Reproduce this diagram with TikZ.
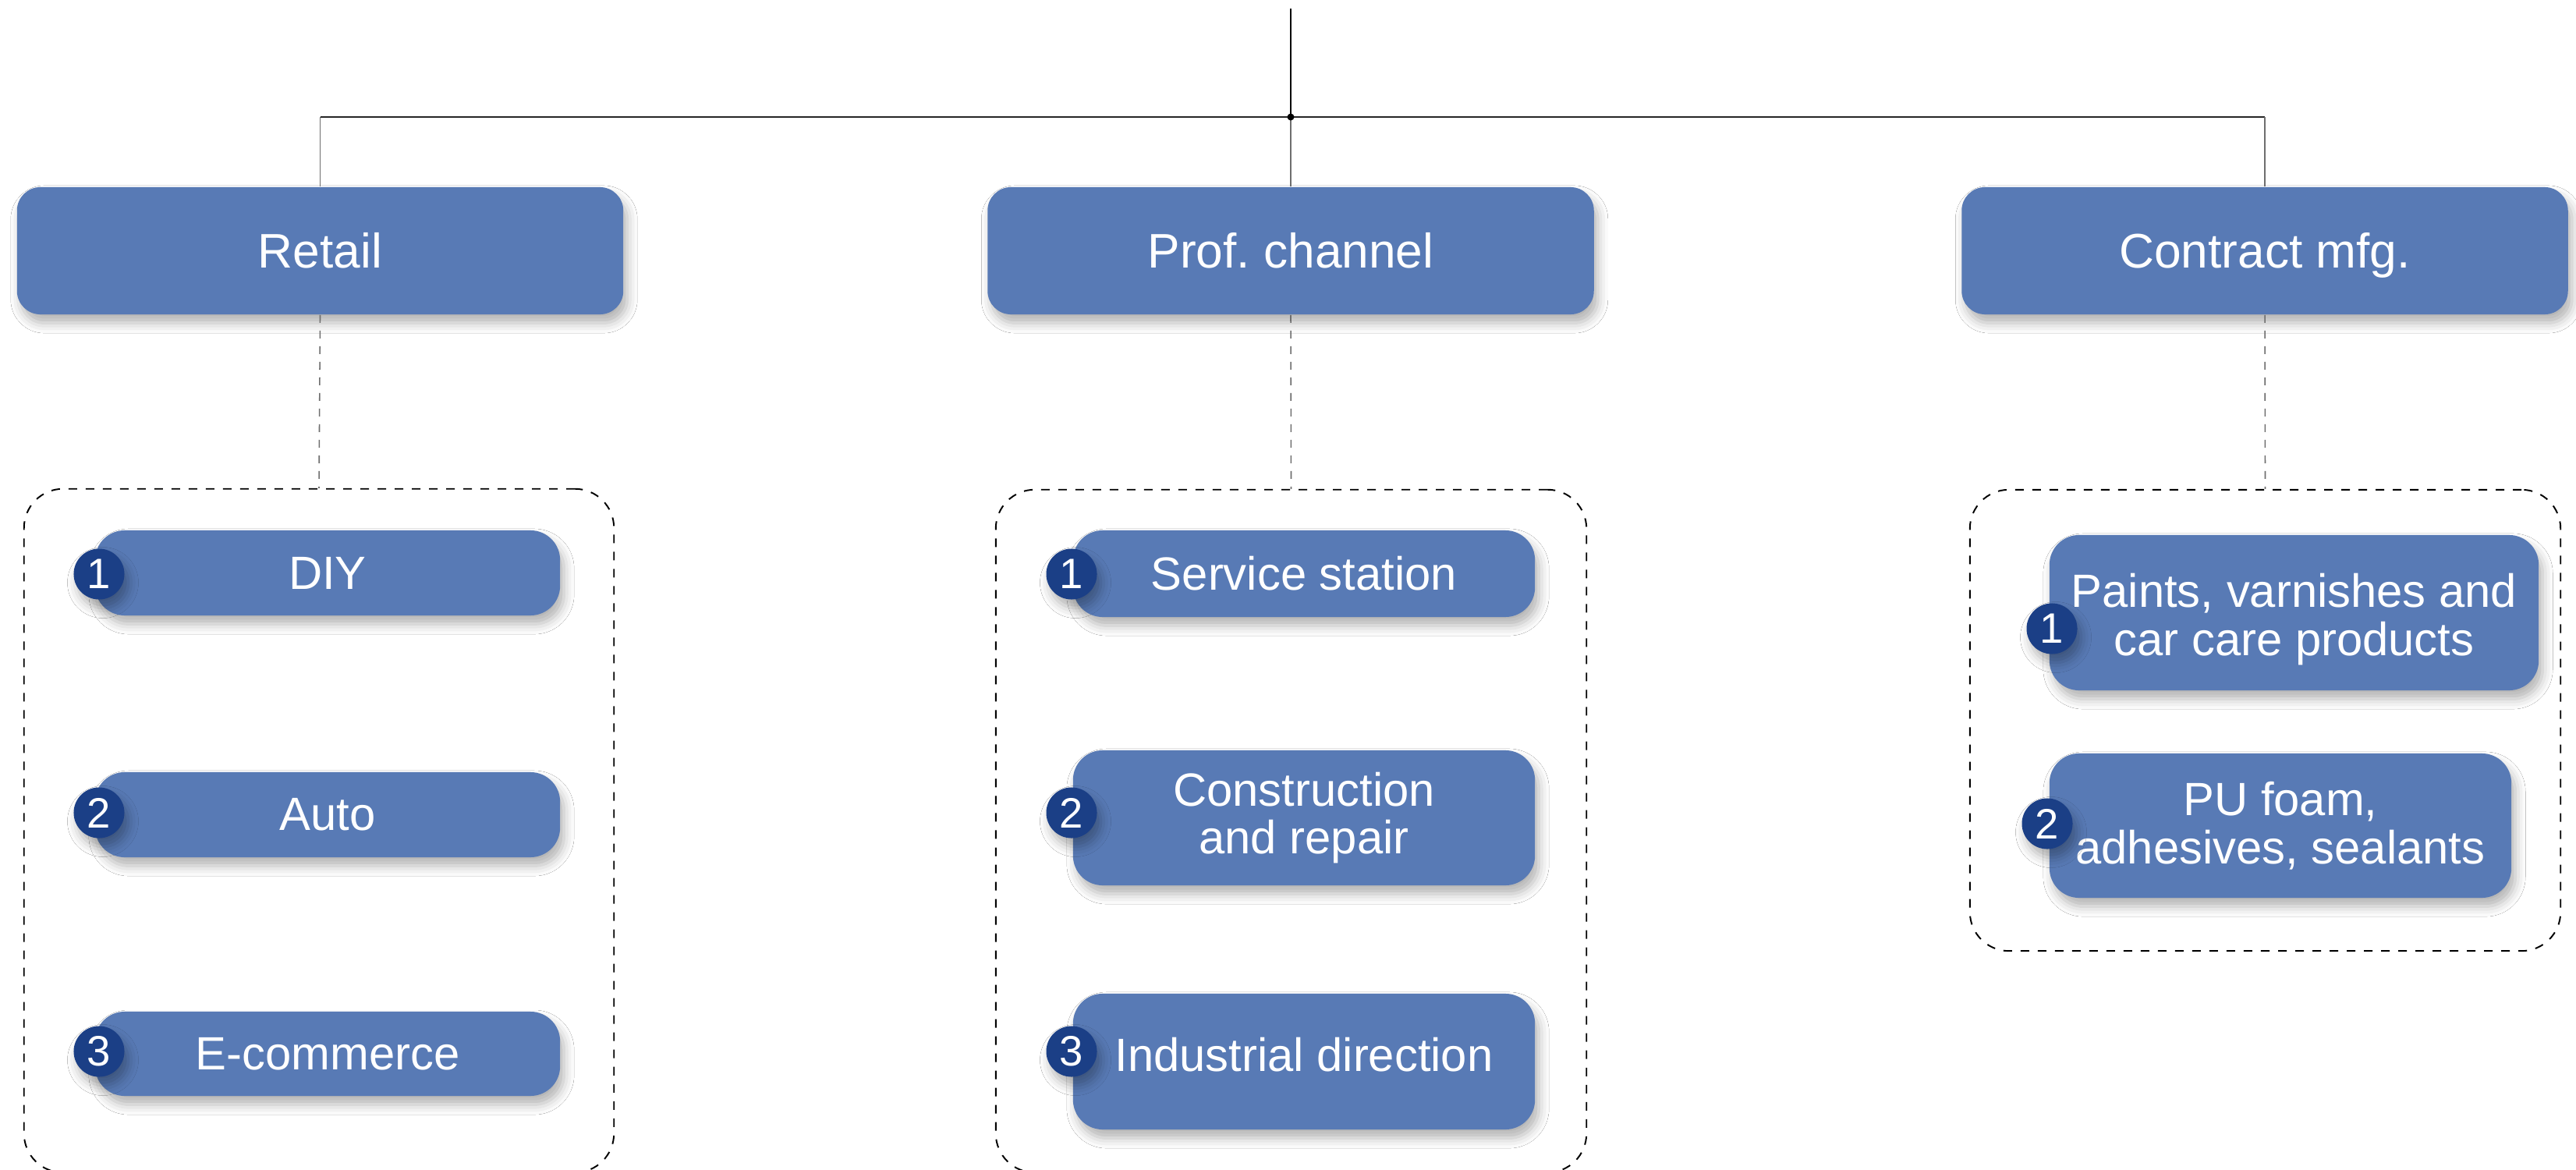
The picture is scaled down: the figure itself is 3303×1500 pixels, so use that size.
\documentclass[tikz,border=0pt]{standalone}
\usepackage{fontspec}
\setmainfont{Liberation Sans}
\usetikzlibrary{shadows.blur}
\definecolor{boxblue}{RGB}{88,122,181}
\definecolor{badgeblue}{RGB}{27,63,134}
\definecolor{linegray}{RGB}{110,110,110}
\frenchspacing
\tikzset{
  shad/.style={blur shadow={shadow xshift=0.5mm, shadow yshift=-1.1mm, shadow blur radius=1.3mm, shadow opacity=30}},
  hdr/.style={shad, draw=none, fill=boxblue, text=white, rounded corners=3mm,
    minimum width=7.77cm, minimum height=1.63cm, inner sep=0pt,
    text height=12.67pt, text depth=0pt,
    font=\fontsize{17.7}{18}\selectfont},
  item/.style={shad, draw=none, fill=boxblue, text=white, rounded corners=3.8mm,
    inner sep=0pt, align=center, font=\fontsize{17}{17.6}\selectfont},
  grp/.style={draw=black, line width=0.55pt, dash pattern=on 1.1mm off 1.1mm,
    rounded corners=5mm, inner sep=0pt},
  badge/.style={shad, circle, fill=badgeblue, text=white, minimum size=0.65cm,
    inner sep=0pt, font=\fontsize{15.5}{15.5}\selectfont},
  hline/.style={draw=black!85, line width=0.45pt},
  vline/.style={draw=linegray, line width=0.35pt},
  dline/.style={draw=linegray, line width=0.45pt, dash pattern=on 1mm off 1mm},
}
\begin{document}
\begin{tikzpicture}[x=0.01cm,y=-0.01cm]
\useasboundingbox (0,0) rectangle (3303,1500);
\fill[white] (0,0) rectangle (3303,1500);

% headers
\node[hdr] (retail) at (410.5,321.5) {Retail};
\node[hdr] (prof) at (1655,321.5) {Prof. channel};
\node[hdr] (contract) at (2904,321.5) {Contract mfg.};

% top connectors
\coordinate (top) at (1655,11);
\coordinate (j) at (1655,150);
\draw[vline, draw=black] (top) -- (j);
\draw[hline] (retail.north |- j) -- (contract.north |- j);
\draw[vline] (retail.north |- j) -- (retail.north);
\draw[vline] (j) -- (prof.north);
\draw[vline] (contract.north |- j) -- (contract.north);
\fill[black] (j) circle[radius=4.5];

% groups
\node[grp, minimum width=7.56cm, minimum height=8.76cm] (g1) at (409,1065) {};
\node[grp, minimum width=7.57cm, minimum height=8.75cm] (g2) at (1655.5,1065.5) {};
\node[grp, minimum width=7.57cm, minimum height=5.91cm] (g3) at (2904.5,923.5) {};

\draw[dline] (retail.south) -- (g1.north);
\draw[dline] (prof.south) -- (g2.north);
\draw[dline] (contract.south) -- (g3.north);

% retail items
\node[item, minimum width=5.96cm, minimum height=1.09cm] (diy) at (420,734.5) {DIY};
\node[item, minimum width=5.96cm, minimum height=1.09cm] (auto) at (420,1044.5) {Auto};
\node[item, minimum width=5.96cm, minimum height=1.08cm] (ecom) at (420,1351) {E-commerce};
\node[badge] (b11) at (127,736) {1};
\node[badge] (b12) at (127,1042) {2};
\node[badge] (b13) at (127,1348) {3};

% prof items
\node[item, minimum width=5.92cm, minimum height=1.11cm] (serv) at (1672,735.5) {Service station};
\node[item, minimum width=5.92cm, minimum height=1.73cm] (constr) at (1672,1048.5) {Construction\\and repair};
\node[item, minimum width=5.92cm, minimum height=1.74cm] (indus) at (1672,1361) {\raisebox{-0.125cm}[0pt][0pt]{Industrial direction}};
\node[badge] (b21) at (1374,736) {1};
\node[badge] (b22) at (1374,1042) {2};
\node[badge] (b23) at (1374,1348) {3};

% contract items
\node[item, minimum width=6.27cm, minimum height=1.99cm] (paints) at (2941.5,785.5) {\raisebox{-0.545cm}[0pt][0pt]{\shortstack{Paints, varnishes and\\car care products}}};
\node[item, minimum width=5.92cm, minimum height=1.85cm] (pu) at (2924,1058.5) {PU foam,\\adhesives, sealants};
\node[badge] (b31) at (2631,806) {1};
\node[badge] (b32) at (2625,1056) {2};
\end{tikzpicture}
\end{document}
